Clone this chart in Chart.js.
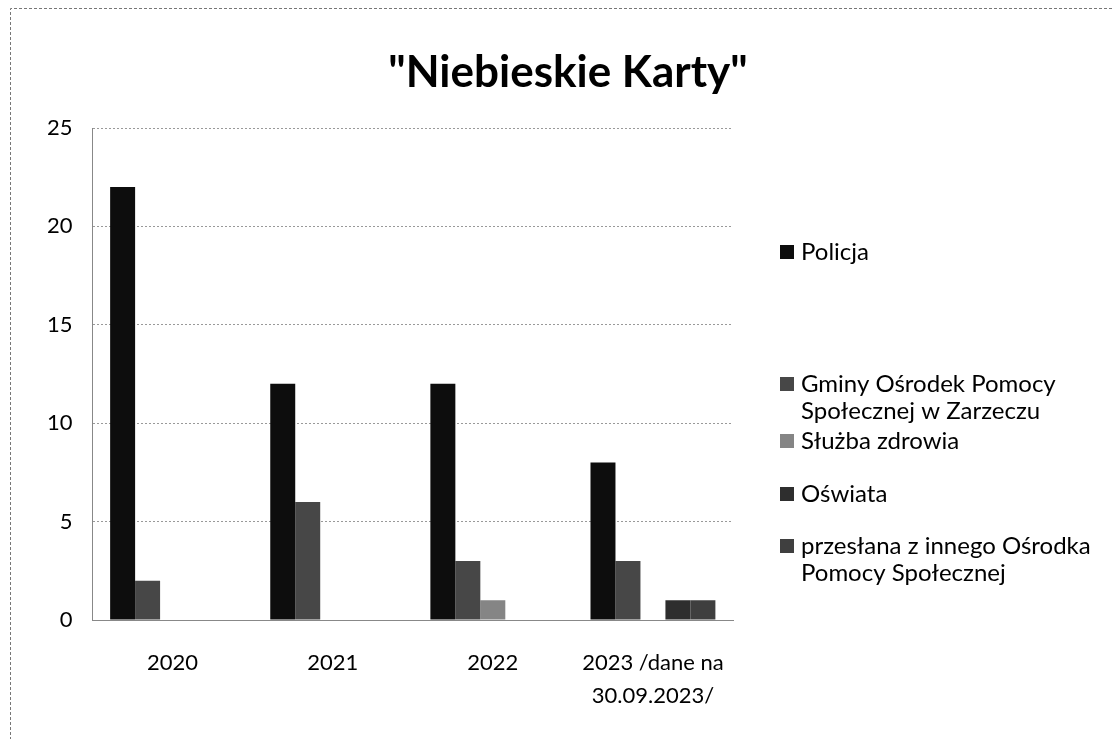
<!DOCTYPE html>
<html>
<head>
<meta charset="utf-8">
<script src="https://cdn.jsdelivr.net/npm/chart.js@4.4.1/dist/chart.umd.min.js"></script>
<style>
  html, body { margin: 0; padding: 0; background: #fff; }
  #wrap { position: relative; width: 1112px; height: 739px; }
</style>
</head>
<body>
<div id="wrap"><canvas id="chart" width="1112" height="739"></canvas></div>
<script>
// data
const categories = ['2020', '2021', '2022', ['2023 /dane na', '30.09.2023/']];
const seriesNames = [
    'Policja',
    ['Gminy Ośrodek Pomocy', 'Społecznej w Zarzeczu'],
    'Służba zdrowia',
    'Oświata',
    ['przesłana z innego Ośrodka', 'Pomocy Społecznej']
];
const policja = [22, 12, 12, 8];
const gops = [2, 6, 3, 3];
const sluzbaZdrowia = [0, 0, 1, 0];
const oswiata = [0, 0, 0, 1];
const przeslana = [0, 0, 0, 1];
const yTicks = [0, 5, 10, 15, 20, 25];

const seriesColors = ['#0d0d0d', '#474747', '#858585', '#2e2e2e', '#3f3f3f'];
const legendY = [252, 384, 441, 494, 546]; // first text line of each legend entry

const FONT = 'Lato, "Open Sans", sans-serif';

// frame, title and legend drawn on the canvas
const decor = {
    id: 'decor',
    beforeDraw(chart) {
        const ctx = chart.ctx;
        ctx.save();
        ctx.strokeStyle = '#777';
        ctx.lineWidth = 1;
        ctx.setLineDash([3, 2]);
        ctx.beginPath();
        ctx.moveTo(10.5, 745);
        ctx.lineTo(10.5, 8.5);
        ctx.lineTo(1112, 8.5);
        ctx.stroke();
        ctx.restore();
    },
    afterDraw(chart) {
        const ctx = chart.ctx;
        ctx.save();
        ctx.fillStyle = '#000';
        ctx.font = 'bold 44px ' + FONT;
        ctx.textAlign = 'center';
        ctx.textBaseline = 'middle';
        ctx.fillText('"Niebieskie Karty"', 568, 73);

        ctx.font = '24px ' + FONT;
        ctx.textAlign = 'left';
        chart.data.datasets.forEach((ds, i) => {
            const lines = Array.isArray(ds.label) ? ds.label : [ds.label];
            const y = legendY[i];
            ctx.fillStyle = ds.backgroundColor;
            ctx.fillRect(780, y - 7, 14, 14);
            ctx.fillStyle = '#000';
            lines.forEach((ln, k) => {
                ctx.fillText(ln, 801, y + k * 27);
            });
        });
        ctx.restore();
    }
};

const datasets = [policja, gops, sluzbaZdrowia, oswiata, przeslana].map((vals, i) => ({
    label: seriesNames[i],
    data: vals,
    backgroundColor: seriesColors[i],
    borderWidth: 0,
    barPercentage: 1.0,
    categoryPercentage: 0.78
}));

new Chart(document.getElementById('chart'), {
    type: 'bar',
    data: { labels: categories, datasets: datasets },
    options: {
        responsive: false,
        animation: false,
        layout: { padding: { top: 128, right: 379, left: 27, bottom: 9 } },
        plugins: {
            legend: { display: false },
            title: { display: false },
            tooltip: { enabled: false }
        },
        scales: {
            x: {
                grid: { display: false },
                border: { color: '#888', dash: [2, 2] },
                ticks: {
                    color: '#000',
                    font: { family: FONT, size: 22, lineHeight: 1.5 },
                    padding: 18,
                    maxRotation: 0
                }
            },
            y: {
                min: 0,
                max: 25,
                afterBuildTicks: axis => { axis.ticks = yTicks.map(v => ({ value: v })); },
                grid: { color: '#999', tickLength: 0 },
                border: { color: '#888', dash: [2, 2] },
                ticks: {
                    color: '#000',
                    font: { family: FONT, size: 22 },
                    padding: 20
                }
            }
        }
    },
    plugins: [decor]
});
</script>
</body>
</html>
